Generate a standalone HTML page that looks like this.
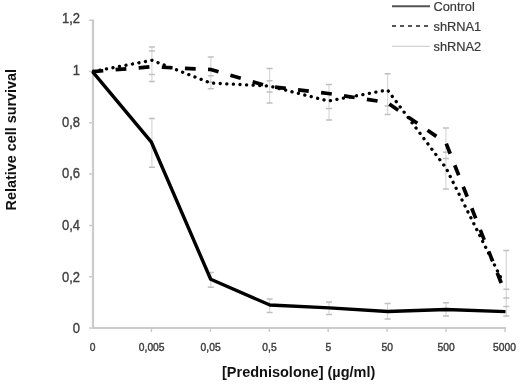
<!DOCTYPE html>
<html><head><meta charset="utf-8"><style>
html,body{margin:0;padding:0;background:#fff;}
body{width:520px;height:385px;overflow:hidden;}
svg{display:block;filter:blur(0.55px);}
text{font-family:"Liberation Sans",sans-serif;}
</style></head><body>
<svg width="520" height="385" viewBox="0 0 520 385">
<rect width="520" height="385" fill="#fff"/>
<g id="axes" stroke="#cbcbcb" stroke-width="2.2" fill="none">
<line x1="93" y1="19.5" x2="93" y2="329"/>
<line x1="92" y1="328" x2="506" y2="328"/>
<path d="M89 20.2H93M89 71.5H93M89 122.8H93M89 174.1H93M89 225.4H93M89 276.7H93M89 328H93" stroke-width="1.5"/>
<path d="M151.4 328V332M210.4 328V332M269.3 328V332M328.2 328V332M387.1 328V332M446 328V332M505 328V332" stroke-width="1.5"/>
</g>
<g id="ylabels" font-size="13" fill="#404040" stroke="#404040" stroke-width="0.35" text-anchor="end">
<text transform="translate(80,23.2) scale(1,1.12)">1,2</text>
<text transform="translate(80,75.2) scale(1,1.12)">1</text>
<text transform="translate(80,127.2) scale(1,1.12)">0,8</text>
<text transform="translate(80,178.3) scale(1,1.12)">0,6</text>
<text transform="translate(80,230.2) scale(1,1.12)">0,4</text>
<text transform="translate(80,281.6) scale(1,1.12)">0,2</text>
<text transform="translate(80,332.5) scale(1,1.12)">0</text>
</g>
<g id="xlabels" font-size="10.3" fill="#404040" stroke="#404040" stroke-width="0.4" text-anchor="middle">
<text transform="translate(92.5,351.2) scale(1,1.12)">0</text>
<text transform="translate(151.7,351.2) scale(1,1.12)">0,005</text>
<text transform="translate(210.6,351.2) scale(1,1.12)">0,05</text>
<text transform="translate(269.5,351.2) scale(1,1.12)">0,5</text>
<text transform="translate(328.3,351.2) scale(1,1.12)">5</text>
<text transform="translate(387.2,351.2) scale(1,1.12)">50</text>
<text transform="translate(446.1,351.2) scale(1,1.12)">500</text>
<text transform="translate(504.5,351.2) scale(1,1.12)">5000</text>
</g>
<text x="222" y="376.5" font-size="14.5" font-weight="bold" fill="#111">[Prednisolone] (µg/ml)</text>
<text transform="translate(16,210.5) rotate(-90)" font-size="14.4" font-weight="bold" fill="#111">Relative cell survival</text>
<!-- error bars -->
<g id="err" fill="none">
<path d="M151.9 118.6V167.3M151.9 47.1V81.6M210.8 57.1V89.0M210.8 272.6V287.2M269.6 68.5V102.9M269.6 299.0V312.6M329.0 84.4V120.0M329.0 301.9V314.4M387.6 73.7V114.5M387.6 303.5V319.0M445.9 127.9V188.9M446.0 302.8V316.0M506.3 250.5V317.0" stroke="#d8d8d8" stroke-width="1.2"/>
<path d="M148.9 118.6H154.9M148.9 167.3H154.9M148.9 47.1H154.9M148.9 51.0H154.9M148.9 74.4H154.9M148.9 81.6H154.9M207.8 57.1H213.8M207.8 75.7H213.8M207.8 82.0H213.8M207.8 88.8H213.8M207.8 272.6H213.8M207.8 287.2H213.8M266.6 68.5H272.6M266.6 80.8H272.6M266.6 91.9H272.6M266.6 102.9H272.6M266.6 299.0H272.6M266.6 312.6H272.6M326.0 84.4H332.0M326.0 120.0H332.0M326.0 108.6H332.0M326.0 301.9H332.0M326.0 314.4H332.0M384.6 73.7H390.6M384.6 106.0H390.6M384.6 114.5H390.6M384.6 303.5H390.6M384.6 319.0H390.6M442.9 127.9H448.9M442.9 152.2H448.9M442.9 158.4H448.9M442.9 188.9H448.9M443.0 302.8H449.0M443.0 316.0H449.0M503.3 250.5H509.3M503.3 289.3H509.3M503.3 298.0H509.3M503.3 306.5H509.3M503.3 316.0H509.3" stroke="#c0c0c0" stroke-width="1.5"/>
</g>
<!-- series -->
<polyline id="control" points="92.5,71.6 151.2,141.8 210.7,279.3 269.9,305 329.3,307.9 387.7,311.5 446,309.5 505.5,311.6" fill="none" stroke="#000" stroke-width="3.4" stroke-linejoin="round"/>
<polyline id="sh1" points="92.5,71.6 151.4,66.8 210.7,69.5 269.3,86.5 328.2,93.5 387.1,102.5 446,143 502,285" fill="none" stroke="#000" stroke-width="3.7" stroke-dasharray="10.8 12.36" stroke-linejoin="round"/>
<polyline id="sh2" points="92.5,71.6 151.9,60.3 210.4,83 269.3,86 328.2,101 387.5,90 446,168 502.5,281" fill="none" stroke="#000" stroke-width="3.3" stroke-dasharray="0.1 6.5" stroke-dashoffset="-1" stroke-linecap="round" stroke-linejoin="round"/>
<!-- legend -->
<line x1="392" y1="6.3" x2="430" y2="6.3" stroke="#555" stroke-width="2"/>
<line x1="392" y1="26" x2="430" y2="26" stroke="#555" stroke-width="2" stroke-dasharray="4 4"/>
<line x1="392" y1="46.3" x2="430" y2="46.3" stroke="#c8c8c8" stroke-width="1"/>
<g font-size="12.8" fill="#383838" stroke="#383838" stroke-width="0.2">
<text x="433.5" y="10.8">Control</text>
<text x="433.5" y="31.4">shRNA1</text>
<text x="433.5" y="51.4">shRNA2</text>
</g>
</svg>
</body></html>
